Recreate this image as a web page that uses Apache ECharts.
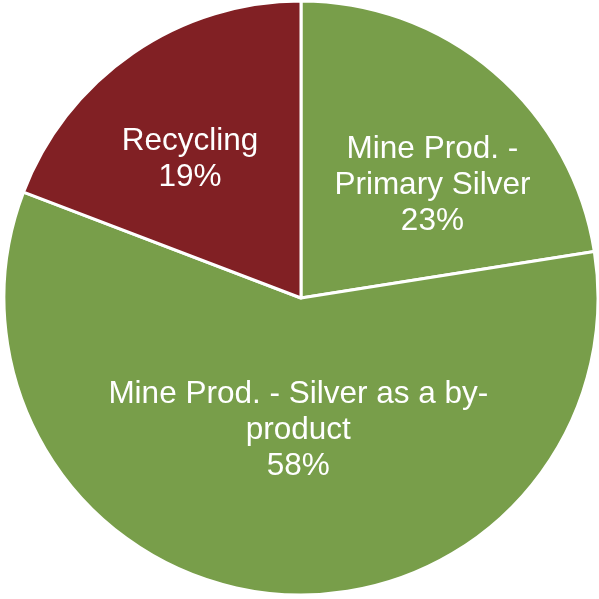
<!DOCTYPE html>
<html>
<head>
<meta charset="utf-8">
<script src="https://cdn.jsdelivr.net/npm/echarts@6/dist/echarts.min.js"></script>
<style>
html,body{margin:0;padding:0;background:#fff;}
#chart{width:599px;height:599px;}
</style>
</head>
<body>
<div id="chart"></div>
<script>
const categories = ["Mine Prod. -\nPrimary Silver", "Mine Prod. - Silver as a by-\nproduct", "Recycling"];
const values = [22.5, 58.3, 19.2];
const colors = ["#789E4A", "#789E4A", "#812024"];
const labelShift = [[33, 3], [13, -18], [-25, -14]];

const chart = echarts.init(document.getElementById('chart'), null, {renderer: 'canvas'});
chart.setOption({
  animation: false,
  backgroundColor: '#ffffff',
  series: [{
    type: 'pie',
    center: [301, 298],
    radius: [0, 297],
    startAngle: 90,
    clockwise: true,
    percentPrecision: 0,
    data: categories.map((c, i) => ({name: c, value: values[i], itemStyle: {color: colors[i]}})),
    itemStyle: {borderColor: '#ffffff', borderWidth: 3},
    label: {
      show: true,
      position: 'inside',
      formatter: '{b}\n{d}%',
      color: '#ffffff',
      fontFamily: 'Liberation Sans, Arial, sans-serif',
      fontSize: 31.5,
      lineHeight: 36,
      align: 'center'
    },
    labelLine: {show: false},
    labelLayout: function (p) {
      return {dx: labelShift[p.dataIndex][0], dy: labelShift[p.dataIndex][1]};
    },
    emphasis: {disabled: true}
  }]
});
</script>
</body>
</html>
